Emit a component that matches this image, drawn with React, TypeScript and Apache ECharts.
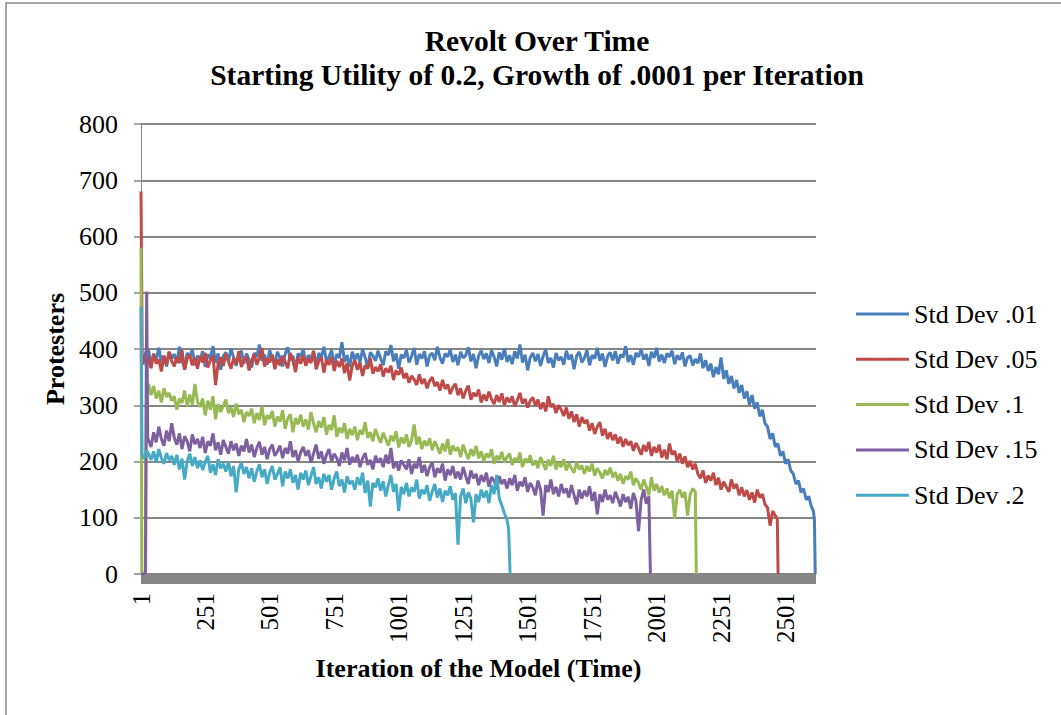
import React, { useEffect, useRef } from "react";
import * as echarts from "echarts";

const TITLE_LINE1 = "Revolt Over Time";
const TITLE_LINE2 = "Starting Utility of 0.2, Growth of .0001 per Iteration";
const X_NAME = "Iteration of the Model (Time)";
const Y_NAME = "Protesters";
const SERIES_NAMES = ["Std Dev .01", "Std Dev .05", "Std Dev .1", "Std Dev .15", "Std Dev .2"];
const COLORS = ["#4A7EBB", "#BE4B48", "#98B954", "#7D60A0", "#46AAC5"];
const ITERATIONS = 2618;
const LABEL_EVERY = 250;
const Y_TICKS = [0, 100, 200, 300, 400, 500, 600, 700, 800];

// sampled values: body starts at iteration 30, one value every 10 iterations
const BODY_START = 30;
const BODY_STEP = 10;

// [iteration, value]
const blueHead = [[1, 392], [10, 378], [20, 395]];
const blueBody = [
  398, 372, 390, 381, 402, 377, 388, 369, 395, 383,
  391, 375, 404, 380, 366, 393, 386, 399, 371, 388,
  380, 396, 368, 390, 384, 405, 376, 392, 363, 387,
  394, 378, 401, 385, 370, 389, 397, 374, 392, 381,
  367, 393, 386, 408, 379, 390, 372, 398, 383, 376,
  395, 384, 369, 391, 403, 380, 388, 365, 392, 386,
  399, 374, 389, 382, 396, 370, 393, 385, 404, 378,
  386, 398, 372, 391, 384, 412, 377, 389, 368, 395,
  381, 392, 376, 400, 385, 367, 394, 388, 379, 397,
  383, 371, 396, 389, 407, 378, 392, 365, 390, 384,
  398, 376, 387, 402, 372, 391, 383, 396, 369, 388,
  393, 380, 404, 385, 374, 392, 386, 399, 377, 390,
  371, 395, 384, 389, 403, 378, 391, 366, 388, 397,
  382, 392, 375, 398, 386, 369, 394, 381, 401, 377,
  389, 373, 396, 383, 408, 376, 390, 362, 385, 393,
  378, 391, 370, 387, 399, 375, 384, 367, 393, 380,
  386, 372, 397, 381, 390, 364, 388, 395, 376, 384,
  398, 371, 389, 383, 402, 379, 392, 368, 387, 394,
  380, 396, 374, 390, 385, 405, 377, 389, 372, 393,
  386, 399, 381, 391, 370, 395, 384, 402, 378, 390,
  375, 392, 386, 397, 373, 389, 381, 394, 369, 385,
  388, 371, 382, 375, 392, 366, 380, 361, 374, 350,
  368, 355, 385, 347, 362, 338, 352, 330, 345, 322,
  336, 312, 325, 301, 318, 294, 305, 280, 292, 268,
  262, 240, 250, 226, 232, 210, 218, 196, 204, 184,
  178, 160, 166, 145, 152, 132, 138, 120,
];
const blueTail = [[2608, 112], [2612, 95], [2615, 0]];

const redHead = [[1, 680], [6, 372], [15, 390], [22, 368]];
const redBody = [
  385, 366, 392, 374, 381, 360, 388, 372, 395, 378,
  369, 386, 375, 398, 363, 382, 390, 371, 384, 365,
  388, 376, 393, 367, 380, 389, 336, 374, 385, 370,
  392, 378, 365, 384, 373, 396, 368, 381, 387, 362,
  379, 391, 372, 385, 402, 369, 383, 376, 390, 364,
  382, 371, 388, 377, 366, 393, 380, 359, 386, 374,
  389, 370, 383, 375, 397, 364, 378, 386, 358, 381,
  372, 386, 361, 379, 368, 383, 357, 375, 344, 370,
  380, 363, 376, 352, 371, 365, 384, 356, 368, 360,
  373, 351, 366, 358, 370, 345, 362, 354, 367, 348,
  357, 340, 352, 346, 336, 355, 338, 347, 330, 343,
  350, 334, 341, 326, 345, 329, 337, 320, 332, 338,
  318, 330, 312, 326, 335, 310, 322, 316, 328, 305,
  319, 308, 324, 311, 302, 318, 306, 321, 300, 314,
  305, 316, 298, 309, 322, 303, 311, 296, 308, 314,
  299, 310, 293, 305, 289, 316, 297, 302, 286, 300,
  292, 281, 296, 276, 289, 270, 284, 262, 279, 268,
  274, 255, 268, 249, 262, 270, 246, 258, 240, 252,
  238, 248, 232, 244, 226, 240, 229, 236, 219, 233,
  224, 212, 229, 218, 235, 210, 226, 216, 230, 207,
  221, 204, 232, 212, 219, 200, 214, 196, 209, 190,
  201, 186, 196, 178, 170, 184, 162, 175, 166, 180,
  158, 171, 150, 164, 155, 146, 168, 152, 160, 140,
  154, 138, 149, 132, 145, 127, 150, 136, 142, 124,
  118, 86, 112, 104,
];
const redTail = [[2468, 98], [2471, 0]];

const greenHead = [[1, 580], [4, 0], [19, 0], [22, 342], [26, 322]];
const greenBody = [
  338, 318, 334, 312, 326, 305, 330, 315, 322, 308,
  316, 292, 312, 304, 326, 298, 319, 301, 338, 306,
  297, 312, 282, 308, 292, 316, 275, 302, 288, 299,
  310, 286, 296, 279, 303, 284, 292, 270, 288, 281,
  294, 268, 286, 274, 298, 265, 282, 276, 290, 262,
  280, 271, 291, 258, 276, 284, 252, 277, 266, 283,
  262, 275, 257, 288, 268, 252, 272, 260, 279, 248,
  265, 256, 282, 244, 260, 251, 268, 240, 258, 247,
  262, 238, 256, 248, 270, 242, 252, 236, 258, 245,
  233, 251, 240, 228, 246, 236, 254, 225, 243, 232,
  248, 226, 238, 266, 230, 244, 222, 237, 228, 241,
  220, 236, 226, 214, 232, 218, 240, 212, 228, 219,
  225, 208, 230, 216, 204, 222, 210, 228, 206, 218,
  200, 214, 207, 222, 196, 210, 203, 217, 198, 208,
  214, 194, 206, 199, 216, 190, 205, 198, 211, 193,
  202, 188, 208, 196, 185, 203, 192, 210, 186, 198,
  190, 204, 184, 197, 188, 180, 199, 186, 193, 178,
  192, 182, 196, 175, 188, 180, 170, 185, 176, 189,
  172, 181, 166, 178, 160, 174, 168, 182, 158, 170,
  162, 150, 168, 155, 140, 172, 148, 160, 145, 156,
  140, 152, 135, 148, 98, 142, 150, 136, 146, 104,
  141, 152, 146,
];
const greenTail = [[2154, 0]];

const purpleHead = [[1, 0], [18, 0], [23, 502], [27, 242]];
const purpleBody = [
  238, 226, 252, 234, 262, 240, 228, 255, 236, 268,
  242, 230, 250, 222, 245, 236, 218, 248, 231, 240,
  224, 244, 215, 236, 228, 250, 220, 234, 212, 238,
  226, 214, 236, 220, 232, 210, 228, 218, 240, 216,
  230, 208, 224, 235, 212, 226, 204, 222, 230, 210,
  218, 228, 206, 224, 214, 236, 208, 220, 200, 216,
  226, 210, 220, 198, 214, 230, 205, 218, 196, 212,
  222, 200, 214, 206, 192, 216, 202, 224, 194, 208,
  200, 212, 190, 206, 215, 194, 203, 186, 210, 198,
  206, 190, 212, 196, 224, 188, 200, 184, 202, 194,
  186, 204, 178, 196, 188, 208, 180, 194, 174, 190,
  198, 172, 188, 180, 196, 166, 186, 176, 192, 170,
  182, 168, 190, 174, 160, 184, 170, 178, 158, 176,
  164, 180, 155, 172, 166, 150, 174, 160, 168, 152,
  170, 158, 176, 148, 164, 156, 172, 146, 162, 154,
  140, 166, 150, 104, 158, 146, 168, 142, 155, 138,
  160, 144, 152, 136, 158, 140, 124, 150, 134, 148,
  138, 156, 130, 146, 106, 142, 128, 150, 132, 140,
  126, 146, 134, 120, 142, 128, 137, 116, 144, 130,
  76, 132, 150, 125, 138,
];
const purpleTail = [[1976, 0]];

const cyanHead = [[1, 475], [5, 212], [15, 205], [22, 220]];
const cyanBody = [
  214, 203, 218, 198, 222, 206, 196, 215, 202, 210,
  194, 212, 186, 205, 168, 200, 214, 192, 208, 188,
  202, 185, 198, 210, 180, 195, 176, 204, 188, 196,
  182, 200, 174, 192, 145, 186, 198, 178, 190, 170,
  188, 164, 182, 195, 172, 186, 160, 180, 192, 168,
  178, 190, 156, 182, 170, 186, 162, 176, 150, 180,
  168, 184, 158, 174, 190, 160, 172, 152, 178, 164,
  176, 150, 170, 182, 156, 168, 145, 174, 160, 166,
  150, 172, 158, 180, 144, 166, 120, 162, 154, 170,
  148, 165, 138, 158, 176, 146, 160, 112, 155, 142,
  162, 138, 154, 146, 168, 134, 150, 142, 158, 130,
  146, 160, 136, 152, 128, 148, 140, 156, 132, 144,
  52, 138, 152, 126, 145, 134, 92, 142, 128, 150,
  136, 148, 126, 158, 142, 176, 134, 122, 108, 96,
];
const cyanTail = [[1426, 82], [1432, 0]];

const categories = Array.from({ length: ITERATIONS }, (_, i) => String(i + 1));

function build(head: number[][], body: number[], tail: number[][]) {
  const pts: number[][] = [];
  head.forEach(([it, v]) => pts.push([it - 1, v]));
  body.forEach((v, i) => pts.push([BODY_START + i * BODY_STEP - 1, v]));
  tail.forEach(([it, v]) => pts.push([it - 1, v]));
  return pts;
}

const seriesData = [
  build(blueHead, blueBody, blueTail),
  build(redHead, redBody, redTail),
  build(greenHead, greenBody, greenTail),
  build(purpleHead, purpleBody, purpleTail),
  build(cyanHead, cyanBody, cyanTail),
];

const FONT = "Liberation Serif";
const GRID_LEFT = 141;
const GRID_RIGHT = 245;
const GRID_TOP = 124;
const GRID_HEIGHT = 450;

export default function App() {
  const ref = useRef<HTMLDivElement>(null);
  useEffect(() => {
    if (!ref.current) return;
    const chart = echarts.init(ref.current, undefined, { renderer: "svg" });
    chart.setOption({
      animation: false,
      backgroundColor: "#ffffff",
      textStyle: { fontFamily: FONT },
      graphic: [
        {
          type: "rect",
          shape: { x: 6, y: 3, width: 1200, height: 900 },
          style: { fill: "none", stroke: "#8a8a8a", lineWidth: 1.5 },
          silent: true,
          z: -10,
        },
        {
          // thick horizontal axis band below the zero line
          type: "rect",
          shape: { x: GRID_LEFT, y: GRID_TOP + GRID_HEIGHT, width: 1061 - GRID_LEFT - GRID_RIGHT, height: 10 },
          style: { fill: "#868686" },
          silent: true,
          z: 1,
        },
        {
          type: "text",
          x: 537,
          y: 41,
          style: {
            text: TITLE_LINE1,
            fontFamily: FONT,
            fontSize: 29.5,
            fontWeight: "bold",
            fill: "#000",
            align: "center",
            verticalAlign: "middle",
          },
        },
        {
          type: "text",
          x: 537,
          y: 75,
          style: {
            text: TITLE_LINE2,
            fontFamily: FONT,
            fontSize: 29.5,
            fontWeight: "bold",
            fill: "#000",
            align: "center",
            verticalAlign: "middle",
          },
        },
      ],
      legend: {
        orient: "vertical",
        left: 856,
        top: 301,
        padding: 0,
        icon: "rect",
        itemWidth: 53,
        itemHeight: 3,
        itemGap: 19.3,
        textStyle: { fontFamily: FONT, fontSize: 26, color: "#000", lineHeight: 26 },
        data: SERIES_NAMES,
      },
      grid: { left: GRID_LEFT, right: GRID_RIGHT, top: GRID_TOP, height: GRID_HEIGHT, containLabel: false },
      xAxis: {
        type: "category",
        data: categories,
        boundaryGap: false,
        axisLine: { show: false },
        axisTick: { show: false },
        axisLabel: {
          rotate: 90,
          interval: (index: number) => index % LABEL_EVERY === 0,
          fontFamily: FONT,
          fontSize: 25,
          color: "#000",
          margin: 19,
        },
        name: X_NAME,
        nameLocation: "middle",
        nameGap: 81,
        nameTextStyle: { fontFamily: FONT, fontSize: 26, fontWeight: "bold", color: "#000" },
        splitLine: { show: false },
      },
      yAxis: {
        type: "value",
        min: Y_TICKS[0],
        max: Y_TICKS[Y_TICKS.length - 1],
        interval: 100,
        axisLine: { show: true, lineStyle: { color: "#868686", width: 1 } },
        axisTick: { show: true, length: 7, lineStyle: { color: "#868686", width: 1.5 } },
        axisLabel: { fontFamily: FONT, fontSize: 26, color: "#000", margin: 23 },
        splitLine: { show: true, lineStyle: { color: "#868686", width: 1.8 } },
        name: Y_NAME,
        nameLocation: "middle",
        nameGap: 71,
        nameTextStyle: { fontFamily: FONT, fontSize: 26, fontWeight: "bold", color: "#000" },
      },
      series: SERIES_NAMES.map((name, i) => ({
        name,
        type: "line",
        data: seriesData[i],
        symbol: "none",
        showSymbol: false,
        lineStyle: { color: COLORS[i], width: 3 },
        itemStyle: { color: COLORS[i] },
        z: 3,
      })),
    });
    return () => chart.dispose();
  }, []);
  return (
    <div
      ref={ref}
      style={{ position: "absolute", left: 0, top: 0, width: 1061, height: 715, background: "#fff" }}
    />
  );
}
